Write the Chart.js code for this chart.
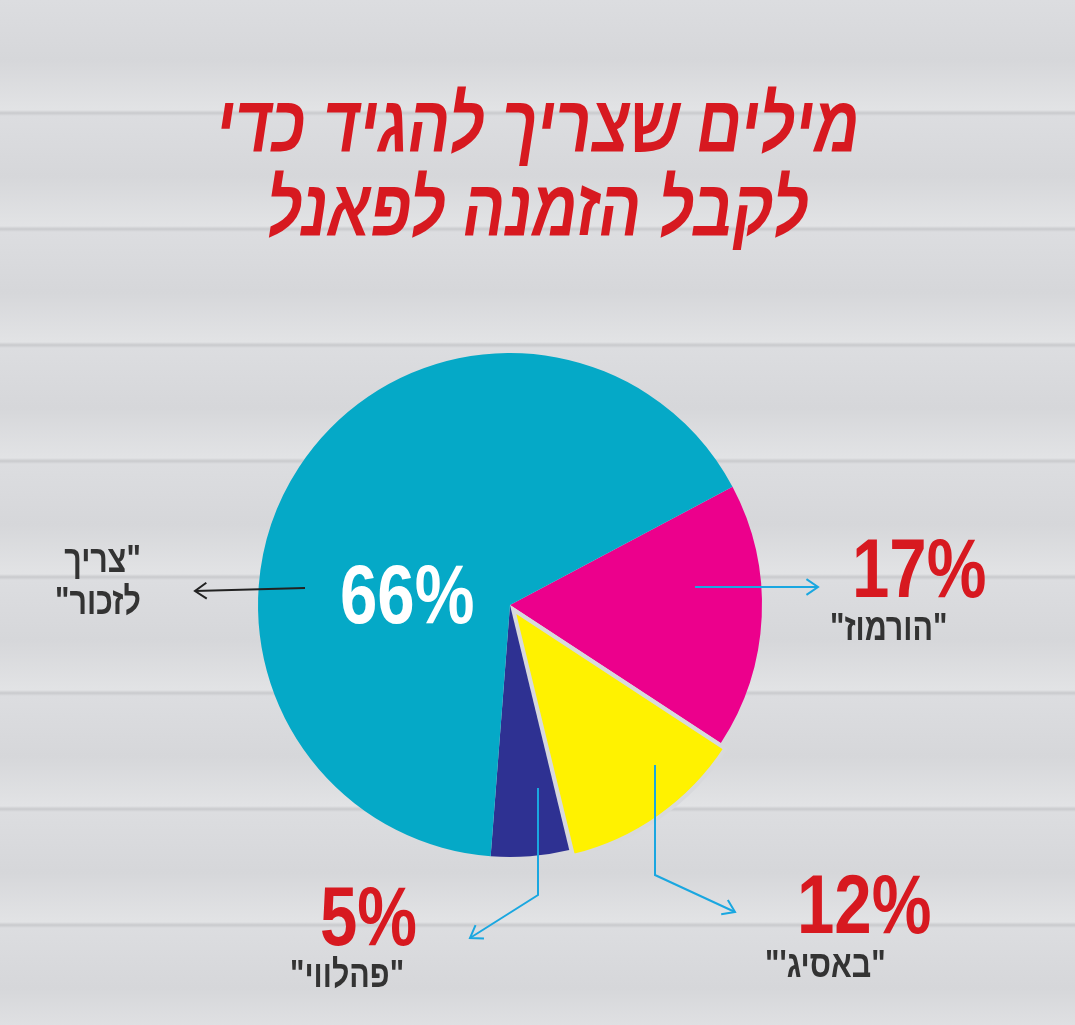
<!DOCTYPE html>
<html><head><meta charset="utf-8">
<script src="https://cdn.jsdelivr.net/npm/chart.js@4"></script>
<style>
body{margin:0;width:1075px;height:1025px;overflow:hidden;
background:repeating-linear-gradient(180deg,#dcdde0 0px,#d6d7da 60px,#e2e3e5 110px,#c9cacd 113px,#dcdde0 116px);
font-family:"Liberation Sans Narrow","Liberation Sans",sans-serif;position:relative}
#wrap{position:absolute;left:0;top:0;width:1075px;height:1025px}
.t{position:absolute;direction:rtl;font-weight:bold;white-space:nowrap;transform:scaleX(0.8);transform-origin:left top}
h1{position:absolute;left:0;width:1075px;top:82px;margin:0;text-align:center;direction:rtl;
color:#d71920;font-size:80px;line-height:84px;font-weight:bold;font-style:italic;transform:scaleX(0.78)}
.pct{color:#d71920;font-size:84px}
.lab{color:#333;font-size:38px;font-weight:bold}
</style></head><body>
<h1>מילים שצריך להגיד כדי<br>לקבל הזמנה לפאנל</h1>
<div id="wrap"><canvas id="c" width="1075" height="1025"></canvas></div>
<div class="t" style="left:340px;top:546px;color:#fff;font-size:84px">66%</div>
<div class="t lab" style="left:55px;top:538px;text-align:right;line-height:42px">"צריך<br>לזכור"</div>
<div class="t pct" style="left:852px;top:520px">17%</div>
<div class="t lab" style="left:830px;top:606px">"הורמוז"</div>
<div class="t pct" style="left:797px;top:856px">12%</div>
<div class="t lab" style="left:765px;top:943px">"באסיג'"</div>
<div class="t pct" style="left:320px;top:868px">5%</div>
<div class="t lab" style="left:290px;top:953px">"פהלווי"</div>
<script>
const categories = ['הורמוז', 'באסיג\'', 'פהלווי', 'צריך לזכור'];
const values = [17, 12, 5, 66];
const colors = ['#ec008c', '#fff200', '#2e3192', '#05a9c7'];

function arrow(ctx, pts, col) {
  ctx.save(); ctx.strokeStyle = col; ctx.lineWidth = 2;
  ctx.beginPath(); ctx.moveTo(pts[0][0], pts[0][1]);
  pts.slice(1).forEach(p => ctx.lineTo(p[0], p[1])); ctx.stroke();
  const [a, b] = pts.slice(-2), ang = Math.atan2(b[1]-a[1], b[0]-a[0]);
  ctx.beginPath();
  ctx.moveTo(b[0]-14*Math.cos(ang-0.6), b[1]-14*Math.sin(ang-0.6));
  ctx.lineTo(b[0], b[1]);
  ctx.lineTo(b[0]-14*Math.cos(ang+0.6), b[1]-14*Math.sin(ang+0.6));
  ctx.stroke(); ctx.restore();
}
const arrows = {
  id: 'arrows',
  afterDraw(chart) {
    const ctx = chart.ctx;
    arrow(ctx, [[305, 588], [195, 591]], '#222');
    arrow(ctx, [[695, 587], [818, 587]], '#1aa7e0');
    arrow(ctx, [[655, 765], [655, 875], [735, 912]], '#1aa7e0');
    arrow(ctx, [[538, 788], [538, 895], [470, 938]], '#1aa7e0');
  }
};
new Chart(document.getElementById('c'), {
  type: 'pie',
  data: { labels: categories, datasets: [{ data: values, backgroundColor: colors,
    borderColor: '#d8d9dc', borderWidth: [0, 4, 0, 0], borderJoinStyle: 'miter',
    offset: (c) => c.dataIndex === 1 ? 22 : 0 }] },
  options: {
    responsive: false, animation: false, rotation: 62,
    layout: { padding: { left: 245, right: 300, top: 340, bottom: 155 } },
    plugins: { legend: { display: false }, tooltip: { enabled: false } }
  },
  plugins: [arrows]
});
</script></body></html>
